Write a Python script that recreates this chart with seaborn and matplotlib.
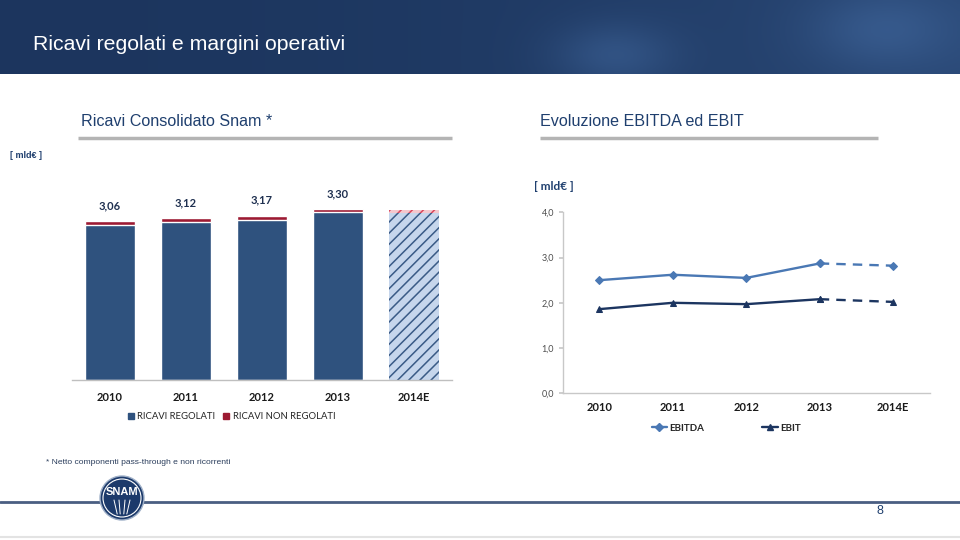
import numpy as np
import pandas as pd
import matplotlib
matplotlib.use('Agg')
import matplotlib.pyplot as plt
import seaborn as sns
from matplotlib.patches import Circle, Rectangle
from matplotlib.lines import Line2D

# data
years = ['2010', '2011', '2012', '2013', '2014E']
ricavi_regolati = [2.98, 3.05, 3.09, 3.24, 3.23]
ricavi_non_regolati = [0.08, 0.07, 0.08, 0.06, 0.05]
ricavi_labels = ['3,06', '3,12', '3,17', '3,30', '']
ebitda = [2.50, 2.62, 2.55, 2.87, 2.82]
ebit = [1.86, 2.00, 1.97, 2.08, 2.02]
y_ticks = [0.0, 1.0, 2.0, 3.0, 4.0]

NAVY = '#1f3f6e'
BLUE_BAR = '#2f527e'
RED_BAR = '#9c1a32'
EBITDA_C = '#4a78b4'
EBIT_C = '#1c3560'
NARROW = ['Liberation Sans', 'DejaVu Sans']
BODY = ['Lato', 'DejaVu Sans']

sns.set_theme(style='white')
plt.rcParams['font.family'] = BODY
plt.rcParams['hatch.linewidth'] = 1.1

fig = plt.figure(figsize=(9.6, 5.4), dpi=100)

# background layer in pixel coordinates
bg = fig.add_axes([0, 0, 1, 1], zorder=0)
bg.set_xlim(0, 960)
bg.set_ylim(540, 0)
bg.axis('off')

# header band with a soft gradient
grad = np.linspace(0, 1, 300)
xx, yy = np.meshgrid(grad, np.linspace(0, 1, 40))
c0 = np.array([0.11, 0.21, 0.37])
c1 = np.array([0.22, 0.36, 0.56])
blob = np.exp(-((xx - 0.64) ** 2) / 0.004 - ((yy - 0.75) ** 2) / 0.2) * 0.55 \
    + np.exp(-((xx - 0.92) ** 2) / 0.006 - ((yy - 0.4) ** 2) / 0.3) * 0.5
mix = np.clip(xx ** 2 * 0.5 + blob, 0, 1)[..., None]
img = c0 * (1 - mix) + c1 * mix
bg.imshow(img, extent=[0, 960, 74, 0], aspect='auto', zorder=1)
bg.text(33, 44, 'Ricavi regolati e margini operativi', color='white',
        fontsize=15.3, family=NARROW, va='center', ha='left', zorder=2)

# section titles with grey rules
bg.text(81, 122, 'Ricavi Consolidato Snam *', color=NAVY, fontsize=11.6,
        family=NARROW, va='center')
bg.text(540, 122, 'Evoluzione EBITDA ed EBIT', color=NAVY, fontsize=11.6,
        family=NARROW, va='center')
bg.plot([78, 452], [138, 138], color='#b4b4b4', lw=2.5, solid_capstyle='butt')
bg.plot([540, 878], [138, 138], color='#b4b4b4', lw=2.5, solid_capstyle='butt')
bg.text(10, 156, '[ mld€ ]', color=NAVY, fontsize=6.5, fontweight='bold',
        family=NARROW, va='center')
bg.text(534, 187, '[ mld€ ]', color=NAVY, fontsize=8.5, fontweight='bold',
        family=BODY, va='center')

# footer
bg.text(46, 463, '* Netto componenti pass-through e non ricorrenti',
        color='#2a3d5c', fontsize=6.1, family=NARROW, va='center')
bg.plot([0, 960], [502, 502], color='#4a5e82', lw=2)
bg.add_patch(Circle((122, 498), 22, facecolor='#1c3a6b', edgecolor='#9fb0c8',
                    lw=1, zorder=3))
bg.add_patch(Circle((122, 498), 19, facecolor='none', edgecolor='white',
                    lw=0.8, zorder=4))
bg.text(122, 492, 'SNAM', color='white', fontsize=8, fontweight='bold',
        family=NARROW, ha='center', va='center', zorder=5)
for dx in (-8, -3, 3, 8):
    bg.plot([122 + dx, 122 + dx * 0.6], [500, 514], color='white', lw=0.7, zorder=5)
bg.text(880, 511, '8', color=NAVY, fontsize=9, family=NARROW, ha='center', va='center')
bg.plot([0, 960], [537, 537], color='#e3e3e3', lw=1.5)

# left chart: stacked revenue bars
ax1 = fig.add_axes([72 / 960, (540 - 379.5) / 540, 380 / 960, 184.5 / 540], zorder=2)
ax1.patch.set_alpha(0)
totals = [r + n for r, n in zip(ricavi_regolati, ricavi_non_regolati)]
sns.barplot(x=years, y=totals, color=RED_BAR, width=0.66, saturation=1, ax=ax1)
sns.barplot(x=years, y=ricavi_regolati, color=BLUE_BAR, width=0.66, saturation=1, ax=ax1)
n = len(years)
top_bar = ax1.patches[n - 1]
reg_bar = ax1.patches[2 * n - 1]
top_bar.set_facecolor('#f4c7cd')
top_bar.set_edgecolor('#d9485e')
top_bar.set_hatch('///')
top_bar.set_linewidth(0)
reg_bar.set_facecolor('#c6d6ec')
reg_bar.set_edgecolor('#3a5b86')
reg_bar.set_hatch('///')
reg_bar.set_linewidth(0)
for i, lab in enumerate(ricavi_labels):
    if lab:
        ax1.annotate(lab, (i, totals[i]), xytext=(0, 11), textcoords='offset points',
                     ha='center', va='center', fontsize=8, fontweight='bold',
                     color='#1f3050')
ax1.set_xlim(-0.5, n - 0.5)
ax1.set_ylim(0, 184.5 / 51.7)
ax1.set_yticks([])
ax1.set_xlabel('')
ax1.set_ylabel('')
for s in ('top', 'right', 'left'):
    ax1.spines[s].set_visible(False)
ax1.spines['bottom'].set_color('#bfbfbf')
ax1.spines['bottom'].set_linewidth(1)
ax1.tick_params(axis='x', length=0, pad=9, labelsize=8, labelcolor='#1a1a1a')
for t in ax1.get_xticklabels():
    t.set_fontweight('bold')
leg1 = [Rectangle((0, 0), 1, 1, color=BLUE_BAR), Rectangle((0, 0), 1, 1, color=RED_BAR)]
ax1.legend(leg1, ['RICAVI REGOLATI', 'RICAVI NON REGOLATI'], loc='upper center',
           bbox_to_anchor=(0.42, -0.13), ncol=2, frameon=False, fontsize=6.8,
           handlelength=0.6, handleheight=0.6, handletextpad=0.4, columnspacing=0.8,
           labelcolor='#262626')

# right chart: EBITDA / EBIT lines
ax2 = fig.add_axes([562.5 / 960, (540 - 393.3) / 540, 367.5 / 960, 181 / 540], zorder=2)
ax2.patch.set_alpha(0)
pos = list(range(n))
line_kw = dict(markersize=4.5, lw=1.7, ax=ax2)
sns.lineplot(x=pos[:4], y=ebitda[:4], color=EBITDA_C, marker='D',
             markeredgecolor=EBITDA_C, **line_kw)
sns.lineplot(x=pos[3:], y=ebitda[3:], color=EBITDA_C, marker='D',
             markeredgecolor=EBITDA_C, linestyle=(0, (4, 3)), **line_kw)
sns.lineplot(x=pos[:4], y=ebit[:4], color=EBIT_C, marker='^',
             markeredgecolor=EBIT_C, **line_kw)
sns.lineplot(x=pos[3:], y=ebit[3:], color=EBIT_C, marker='^',
             markeredgecolor=EBIT_C, linestyle=(0, (4, 3)), **line_kw)
ax2.set_xlim(-0.5, n - 0.5)
ax2.set_ylim(0, 4)
ax2.set_xticks(pos)
ax2.set_xticklabels(years)
ax2.set_yticks(y_ticks)
ax2.set_yticklabels([f'{v:.1f}'.replace('.', ',') for v in y_ticks])
for s in ('top', 'right'):
    ax2.spines[s].set_visible(False)
for s in ('left', 'bottom'):
    ax2.spines[s].set_color('#c8c8c8')
    ax2.spines[s].set_linewidth(1)
ax2.tick_params(axis='y', length=3, color='#c8c8c8', labelsize=6.5,
                labelcolor='#4d4d4d', pad=3, left=True)
ax2.tick_params(axis='x', length=0, pad=6, labelsize=8, labelcolor='#1a1a1a')
for t in ax2.get_xticklabels():
    t.set_fontweight('bold')
leg2 = [Line2D([], [], color=EBITDA_C, marker='D', markersize=4, lw=1.7),
        Line2D([], [], color=EBIT_C, marker='^', markersize=4, lw=1.7)]
ax2.legend(leg2, ['EBITDA', 'EBIT'], loc='upper center', bbox_to_anchor=(0.445, -0.12),
           ncol=2, frameon=False, handlelength=1.6, handletextpad=0.2,
           columnspacing=6.0, prop={'weight': 'bold', 'size': 7})

fig.savefig('out.png', dpi=100)
